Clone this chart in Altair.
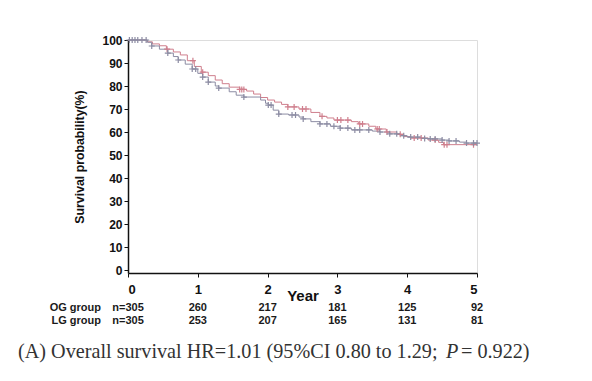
import altair as alt
import pandas as pd
import numpy as np

# OG group Kaplan-Meier steps (years, survival %)
og_t = [0, 0.27, 0.35, 0.45, 0.55, 0.65, 0.75, 0.85, 0.95, 1.05, 1.15, 1.25, 1.35, 1.45, 1.6, 1.7,
        1.8, 1.9, 2.0, 2.1, 2.2, 2.29, 2.45, 2.62, 2.75, 2.85, 2.95, 3.2, 3.3, 3.45, 3.55, 3.7,
        3.85, 3.95, 4.05, 4.3, 4.45, 4.52, 5.0]
og_s = [100, 99.2, 98.3, 97.5, 96, 94.8, 93.5, 91, 88.5, 86, 84.5, 82.6, 81, 79.5, 78.5, 77.8,
        76.5, 75, 73.9, 73, 72, 70.9, 70, 68.5, 66.8, 66.1, 65.2, 64.5, 63.5, 62.5, 61.3, 60,
        59, 58, 57.4, 56.5, 55.5, 54.5, 54.5]
# LG group Kaplan-Meier steps
lg_t = [0, 0.28, 0.34, 0.45, 0.57, 0.65, 0.72, 0.82, 0.92, 1.0, 1.07, 1.15, 1.25, 1.3, 1.45, 1.55,
        1.66, 1.9, 1.97, 2.01, 2.08, 2.16, 2.3, 2.45, 2.51, 2.62, 2.75, 2.9, 3.04, 3.2, 3.5, 3.61,
        3.75, 3.9, 4.0, 4.2, 4.33, 4.5, 4.6, 4.75, 4.85, 5.0]
lg_s = [100, 99, 97.4, 96, 94.3, 92.8, 91.3, 89.5, 87.4, 85.5, 83.9, 81.7, 80, 79.1, 77.5, 76,
        75.2, 73.9, 72.5, 71.7, 69.5, 67.8, 67.4, 66.5, 65.7, 64.5, 63.5, 62.5, 61.7, 60.9, 60.4, 60,
        59.2, 58.4, 57.8, 57.2, 57, 56.5, 56.1, 55.6, 55.2, 55.2]

# censoring times
og_cens = [0.56, 0.93, 1.07, 1.6, 1.63, 1.66, 2.29, 2.38, 2.5, 2.55, 2.78, 3.0, 3.05, 3.15,
           3.32, 3.36, 3.57, 3.6, 3.71, 3.9, 4.1, 4.2, 4.4, 4.53, 4.57, 4.95]
lg_cens = [0.02, 0.06, 0.1, 0.14, 0.2, 0.26, 0.34, 0.57, 0.72, 0.92, 0.97, 1.07, 1.15, 1.3, 1.66,
           2.01, 2.05, 2.16, 2.35, 2.4, 2.51, 2.75, 2.85, 2.95, 3.04, 3.15, 3.25, 3.32, 3.45,
           3.61, 3.75, 3.85, 3.95, 4.05, 4.15, 4.25, 4.33, 4.4, 4.5, 4.6, 4.7, 4.85, 4.95, 5.0]

years = [0, 1, 2, 3, 4, 5]
y_ticks = [0, 10, 20, 30, 40, 50, 60, 70, 80, 90, 100]
og_risk = ["n=305", "260", "217", "181", "125", "92"]
lg_risk = ["n=305", "253", "207", "165", "131", "81"]
groups = ["OG group", "LG group"]

caption_a = "(A) Overall survival HR=1.01 (95%CI 0.80 to 1.29;"
caption_p = "P"
caption_b = "= 0.922)"

curves = pd.concat([
    pd.DataFrame({"t": og_t, "s": og_s, "g": "OG"}),
    pd.DataFrame({"t": lg_t, "s": lg_s, "g": "LG"}),
])


def step_lookup(ts, ss, cs):
    ts = np.array(ts); ss = np.array(ss)
    idx = np.searchsorted(ts, np.array(cs), side="right") - 1
    idx = np.clip(idx, 0, len(ss) - 1)
    return ss[idx]


cens = pd.concat([
    pd.DataFrame({"t": og_cens, "s": step_lookup(og_t, og_s, og_cens), "g": "OG"}),
    pd.DataFrame({"t": lg_cens, "s": step_lookup(lg_t, lg_s, lg_cens), "g": "LG"}),
])

risk_og = pd.DataFrame({"t": years, "label": og_risk})
risk_lg = pd.DataFrame({"t": years, "label": lg_risk})

FONT = "Liberation Sans"
color_scale = alt.Scale(domain=["OG", "LG"], range=["#cf7f8d", "#8c8ca3"])
cross_scale = alt.Scale(domain=["OG", "LG"], range=["#a82a45", "#2a2c55"])

x_axis = alt.Axis(values=years, format="d", title="Year", labelFont=FONT,
                  labelFontSize=13, labelFontWeight="bold", labelColor="#111",
                  titleFont=FONT, titleFontSize=15, titleFontWeight="bold",
                  titleColor="#111", titleY=15, labelPadding=6, tickSize=4,
                  domainColor="#111", tickColor="#111", domainWidth=1.5,
                  labelOverlap=False, grid=False)
y_axis = alt.Axis(values=y_ticks, title="Survival probability(%)",
                  labelFont=FONT, labelFontSize=12, labelFontWeight="bold",
                  labelColor="#111", titleFont=FONT, titleFontSize=12.3,
                  titleFontWeight="bold", titleColor="#111", titlePadding=15,
                  tickSize=4, labelPadding=2, domainColor="#111",
                  tickColor="#111", domainWidth=1.5, labelOverlap=False,
                  labelBound=False, grid=False)
x_scale = alt.Scale(domain=[0, 5], nice=False, zero=False)
y_scale = alt.Scale(domain=[-1.3, 100], nice=False, zero=False)

lines = alt.Chart(curves).mark_line(interpolate="step-after", strokeWidth=1).encode(
    x=alt.X("t:Q", scale=x_scale, axis=x_axis),
    y=alt.Y("s:Q", scale=y_scale, axis=y_axis),
    color=alt.Color("g:N", scale=color_scale, legend=None),
    detail="g:N",
)

crosses = alt.Chart(cens).mark_point(shape="M-1,0H1M0,-1V1", size=36, filled=False,
                                     strokeWidth=1.2, opacity=1).encode(
    x=alt.X("t:Q", scale=x_scale, axis=x_axis),
    y=alt.Y("s:Q", scale=y_scale, axis=y_axis),
    color=alt.Color("g:N", scale=cross_scale, legend=None),
)

txt = dict(font=FONT, fontSize=11, fontWeight="bold", color="#1a1a1a")
r1 = alt.Chart(risk_og).mark_text(**txt).encode(
    x=alt.X("t:Q", scale=x_scale, axis=x_axis), y=alt.value(268), text="label:N")
r2 = alt.Chart(risk_lg).mark_text(**txt).encode(
    x=alt.X("t:Q", scale=x_scale, axis=x_axis), y=alt.value(281), text="label:N")
g1 = alt.Chart(pd.DataFrame({"label": [groups[0]]})).mark_text(align="right", **txt).encode(
    x=alt.value(-27), y=alt.value(268), text="label:N")
g2 = alt.Chart(pd.DataFrame({"label": [groups[1]]})).mark_text(align="right", **txt).encode(
    x=alt.value(-27), y=alt.value(281), text="label:N")

cap = dict(font="Liberation Serif", fontSize=20.2, color="#333", baseline="middle", align="left")
c1 = alt.Chart(pd.DataFrame({"label": [caption_a]})).mark_text(**cap).encode(
    x=alt.value(-110), y=alt.value(312), text="label:N")
c2 = alt.Chart(pd.DataFrame({"label": [caption_p]})).mark_text(fontStyle="italic", **cap).encode(
    x=alt.value(318), y=alt.value(312), text="label:N")
c3 = alt.Chart(pd.DataFrame({"label": [caption_b]})).mark_text(**cap).encode(
    x=alt.value(333), y=alt.value(312), text="label:N")

chart = alt.layer(lines, crosses, r1, r2, g1, g2, c1, c2, c3).properties(
    width=349, height=233,
    autosize=alt.AutoSizeParams(type="none"),
    padding={"left": 120, "top": 32, "right": 107, "bottom": 100},
).configure_view(stroke=None).configure(background="white")

chart.save("out.html", embed_options={"renderer": "svg", "actions": False})
